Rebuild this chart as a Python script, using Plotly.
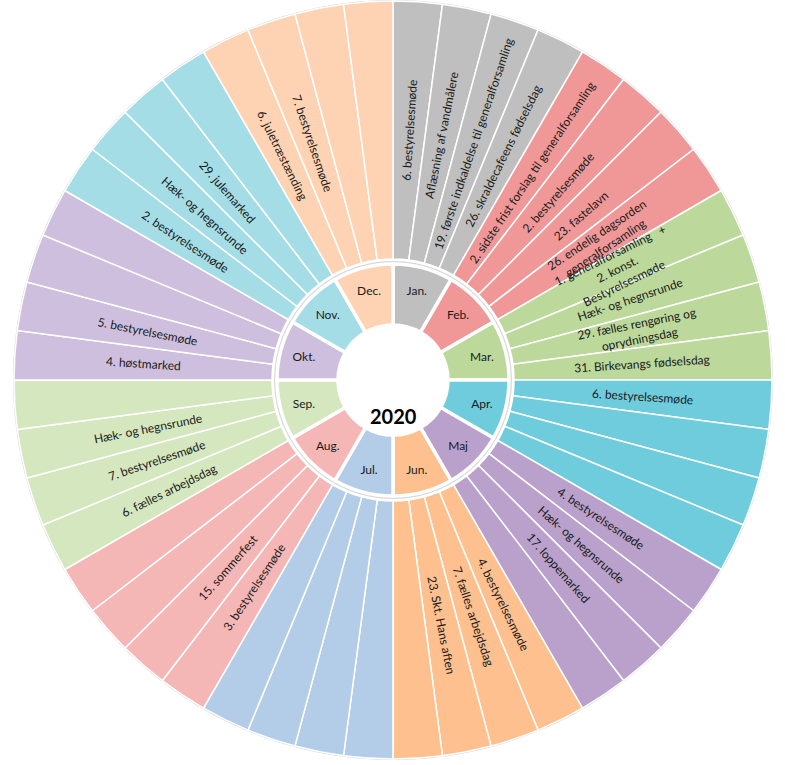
import math
import plotly.graph_objects as go

months = ["Jan.", "Feb.", "Mar.", "Apr.", "Maj", "Jun.",
          "Jul.", "Aug.", "Sep.", "Okt.", "Nov.", "Dec."]

month_colors = ["#BFBFBF", "#F09898", "#BCD89A", "#6FCCDD", "#B9A1CB", "#FDC08E",
                "#B3CCE7", "#F5B6B6", "#D5E7BE", "#CDBFDD", "#A5DDE7", "#FED3B3"]

# four slots per month in the outer ring
jan = ["6. bestyrelsesmøde", "Aflæsning af vandmålere",
       "19. første indkaldelse til generalforsamling", "26. skraldecafeens fødselsdag"]
feb = ["2. sidste frist forslag til generalforsamling", "2. bestyrelsesmøde",
       "23. fastelavn", "26. endelig dagsorden<br>generalforsamling"]
mar = ["1. generalforsamling   +<br>2. konst.<br>Bestyrelsesmøde", "Hæk- og hegnsrunde",
       "29. fælles rengøring og<br>oprydningsdag", "31. Birkevangs fødselsdag"]
apr = ["6. bestyrelsesmøde", "", "", ""]
maj = ["4. bestyrelsesmøde", "Hæk- og hegnsrunde", "17. loppemarked", ""]
jun = ["4. bestyrelsesmøde", "7. fælles arbejdsdag", "23. Skt. Hans aften", ""]
jul = ["", "", "", ""]
aug = ["3. bestyrelsesmøde", "15. sommerfest", "", ""]
sep = ["6. fælles arbejdsdag", "7. bestyrelsesmøde", "Hæk- og hegnsrunde", ""]
okt = ["4. høstmarked", "5. bestyrelsesmøde", "", ""]
nov = ["2. bestyrelsesmøde", "Hæk- og hegnsrunde", "29. julemarked", ""]
dec = ["6. juletræstænding", "7. bestyrelsesmøde", "", ""]

events = [jan, feb, mar, apr, maj, jun, jul, aug, sep, okt, nov, dec]
year = "2020"

outer_ids = []
outer_text = []
outer_colors = []
for m, evs, c in zip(months, events, month_colors):
    for i, e in enumerate(evs):
        outer_ids.append(f"{m} {i + 1}")
        outer_text.append(e)
        outer_colors.append(c)

R = 380.0      # half the plot area in px
HOLE = 121     # inner edge of the outer ring
TEXT_R = 250   # labels sit in the middle of the outer ring
label_font = dict(family="Lato", size=12, color="#1a1a1a")


def dom(r):
    f = r / R / 2
    return dict(x=[0.5 - f, 0.5 + f], y=[0.5 - f, 0.5 + f])


fig = go.Figure()

# thin grey rim around the outer ring
fig.add_trace(go.Pie(
    labels=["rim"], values=[1], hole=0.985, domain=dom(380),
    marker=dict(colors=["#D4D4D4"], line=dict(width=0)),
    textinfo="none", hoverinfo="skip", sort=False, showlegend=False,
))

# grey ring between the two doughnuts
fig.add_trace(go.Pie(
    labels=["ring"], values=[1], hole=112 / 119, domain=dom(119),
    marker=dict(colors=["#D9D9D9"], line=dict(width=0)),
    textinfo="none", hoverinfo="skip", sort=False, showlegend=False,
))

fig.add_trace(go.Pie(
    labels=months, values=[1] * 12, text=months,
    hole=55 / 116, domain=dom(116),
    sort=False, direction="clockwise", rotation=0,
    marker=dict(colors=month_colors, line=dict(color="white", width=3.5)),
    textinfo="text", textposition="inside", insidetextorientation="horizontal",
    textfont=dict(family="Lato", size=12, color="#1a1a1a"),
    hoverinfo="text", showlegend=False,
))

fig.add_trace(go.Pie(
    labels=outer_ids, values=[1] * len(outer_ids), text=outer_text,
    hole=HOLE / 379, domain=dom(379),
    sort=False, direction="clockwise", rotation=0,
    marker=dict(colors=outer_colors, line=dict(color="white", width=1.5)),
    textinfo="none", hoverinfo="label+text", showlegend=False,
))

# radial labels, centred in each outer slice like the Excel data labels
n = len(outer_text)
for k, t in enumerate(outer_text):
    if not t:
        continue
    theta = (k + 0.5) * 360 / n
    a = math.radians(theta)
    angle = theta - 90 if theta <= 180 else theta - 270
    fig.add_annotation(
        text=t, showarrow=False, xref="paper", yref="paper",
        x=0.5 + TEXT_R / (2 * R) * math.sin(a),
        y=0.5 + TEXT_R / (2 * R) * math.cos(a),
        xanchor="center", yanchor="middle", textangle=angle,
        font=label_font,
    )

fig.add_annotation(
    text=f"<b>{year}</b>", x=0.5, y=0.453, xref="paper", yref="paper",
    showarrow=False, font=dict(family="Lato", size=20, color="black"),
)

fig.update_layout(
    width=785, height=765,
    margin=dict(l=13, r=12, t=0, b=5),
    paper_bgcolor="white",
)

fig.write_html("out.html", config={"displayModeBar": False},
               post_script="document.body.style.margin = '0';")
